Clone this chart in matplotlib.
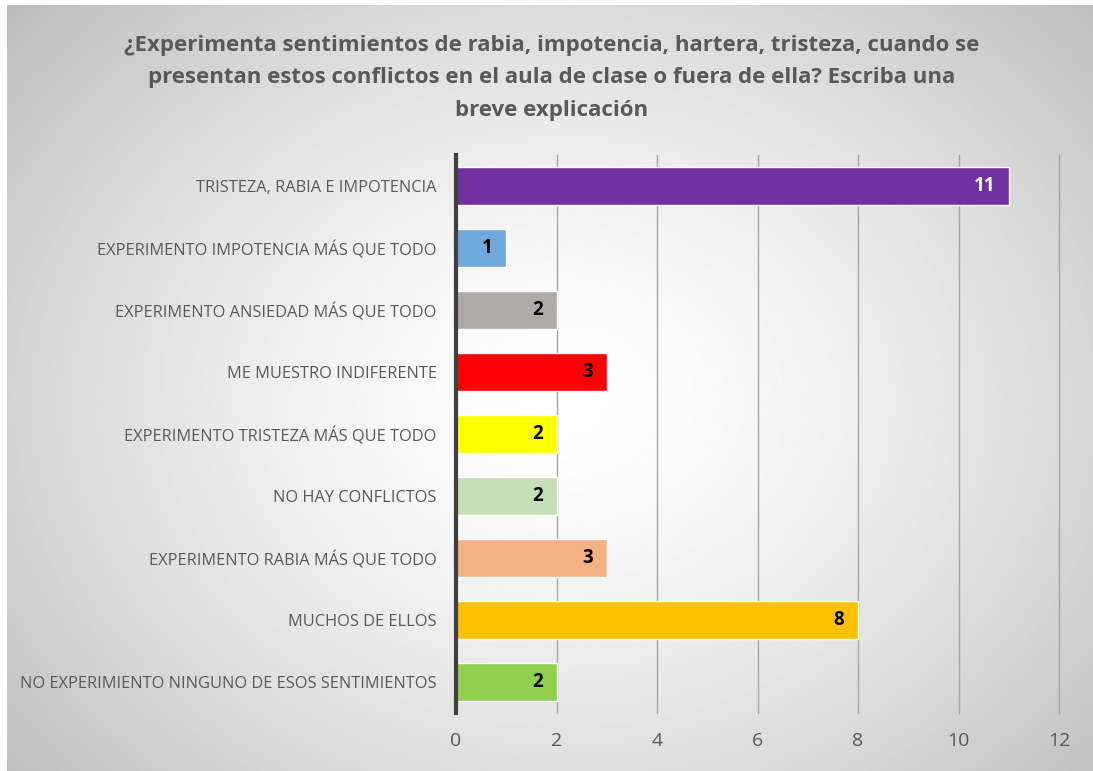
import numpy as np
import matplotlib.pyplot as plt

plt.rcParams['font.family'] = ['Open Sans', 'DejaVu Sans']

categories = [
    "TRISTEZA, RABIA E IMPOTENCIA",
    "EXPERIMENTO IMPOTENCIA MÁS QUE TODO",
    "EXPERIMENTO ANSIEDAD MÁS QUE TODO",
    "ME MUESTRO INDIFERENTE",
    "EXPERIMENTO TRISTEZA MÁS QUE TODO",
    "NO HAY CONFLICTOS",
    "EXPERIMENTO RABIA MÁS QUE TODO",
    "MUCHOS DE ELLOS",
    "NO EXPERIMIENTO NINGUNO DE ESOS SENTIMIENTOS",
]
values = [11, 1, 2, 3, 2, 2, 3, 8, 2]
colors = ["#7030A0", "#6FA8DC", "#AEAAAA", "#FF0000", "#FFFF00",
          "#C5E0B4", "#F4B183", "#FFC000", "#92D050"]
label_colors = ["white"] + ["black"] * 8
xticks = [0, 2, 4, 6, 8, 10, 12]

title = ("¿Experimenta sentimientos de rabia, impotencia, hartera, tristeza, cuando se\n"
         "presentan estos conflictos en el aula de clase o fuera de ella? Escriba una\n"
         "breve explicación")

W, H = 1093, 771
fig = plt.figure(figsize=(W / 100, H / 100), dpi=100)

# radial gradient background
bg = fig.add_axes([7 / W, 0, 1 - 7 / W, 1 - 5 / H])
yy, xx = np.mgrid[0:H, 0:W]
r = np.sqrt(((xx - 560) / 720) ** 2 + ((yy - 400) / 580) ** 2)
shade = np.clip(1.0 - 0.25 * r ** 1.5, 0.74, 1.0)
bg.imshow(shade, cmap="gray", vmin=0, vmax=1, aspect="auto", extent=[0, 1, 0, 1])
bg.axis("off")

ax = fig.add_axes([456 / W, 1 - 713 / H, (1059 - 456) / W, (713 - 155) / H])
ax.patch.set_alpha(0)
y = np.arange(len(categories))
bars = ax.barh(y, values, height=0.6, color=colors, edgecolor="white", linewidth=1.0, zorder=3)
ax.set_ylim(len(categories) - 0.5, -0.5)
ax.set_xlim(0, 12)
ax.set_xticks(xticks)
ax.set_yticks(y)
ax.set_yticklabels(categories, fontsize=11.8, color="#595959")
ax.tick_params(axis="y", length=0, pad=14)
ax.tick_params(axis="x", length=0, pad=14, labelsize=14, labelcolor="#595959")
ax.grid(axis="x", color="#A6A6A6", linewidth=1, zorder=0)
for gl in ax.get_xgridlines():
    gl.set_clip_on(False)
for s in ["top", "right", "bottom"]:
    ax.spines[s].set_visible(False)
ax.spines["left"].set_color("#404040")
ax.spines["left"].set_linewidth(3)
ax.spines["left"].set_zorder(4)

for b, v, c in zip(bars, values, label_colors):
    ax.text(v - 0.27, b.get_y() + b.get_height() / 2, str(v), ha="right", va="center",
            fontsize=13.5, fontweight="bold", color=c, zorder=5)

fig.text(0.505, 1 - 78 / H, title, ha="center", va="center", fontsize=16,
         fontweight="bold", color="#595959", linespacing=1.72)

fig.savefig("out.png", dpi=100)
